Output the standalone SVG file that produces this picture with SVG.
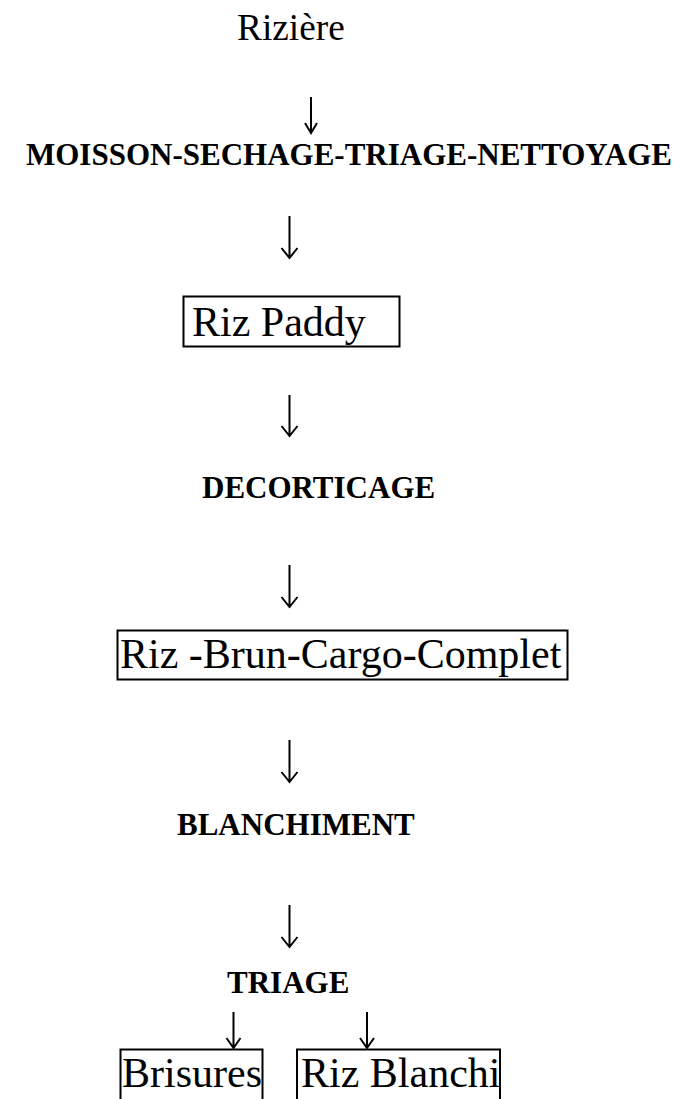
<svg xmlns="http://www.w3.org/2000/svg" width="690" height="1099" viewBox="0 0 690 1099">
<style>
  .reg { font-family: "Liberation Serif", "Times New Roman", serif; font-size: 42px; fill: #000; }
  .title { font-family: "Liberation Serif", "Times New Roman", serif; font-size: 37.3px; fill: #000; }
  .bold { font-family: "Liberation Serif", "Times New Roman", serif; font-size: 31px; font-weight: bold; fill: #000; }
  .box { fill: none; stroke: #000; stroke-width: 2; }
  .arr { fill: none; stroke: #000; stroke-width: 2; stroke-linejoin: miter; }
</style>
<rect width="690" height="1099" fill="#fff"/>

<g id="riziere"><text class="title" x="237" y="40">Rizière</text></g>
<g id="moisson"><text class="bold" x="26" y="165">MOISSON-SECHAGE-TRIAGE-NETTOYAGE</text></g>
<g id="riz-paddy">
  <rect class="box" x="183.5" y="296.5" width="216" height="50"/>
  <text class="reg" x="192" y="336">Riz Paddy</text>
</g>
<g id="decorticage"><text class="bold" x="202" y="498">DECORTICAGE</text></g>
<g id="riz-brun">
  <rect class="box" x="117.5" y="630.5" width="450" height="49"/>
  <text class="reg" x="120" y="668">Riz -Brun-Cargo-Complet</text>
</g>
<g id="blanchiment"><text class="bold" x="177" y="835">BLANCHIMENT</text></g>
<g id="triage"><text class="bold" x="227" y="993">TRIAGE</text></g>
<g id="brisures">
  <rect class="box" x="120.5" y="1049.5" width="142" height="70"/>
  <text class="reg" x="122" y="1087">Brisures</text>
</g>
<g id="riz-blanchi">
  <rect class="box" x="297" y="1049.5" width="203" height="70"/>
  <text class="reg" x="301" y="1087">Riz Blanchi</text>
</g>

<g id="connectors">
  <path class="arr" d="M311 97 V133 M305 123 L311 133 L317 123"/>
  <path class="arr" d="M289.5 216 V258 M281.5 248 L289.5 258 L297.5 248"/>
  <path class="arr" d="M289.5 395 V436 M281.5 426 L289.5 436 L297.5 426"/>
  <path class="arr" d="M289.5 565 V607 M281.5 597 L289.5 607 L297.5 597"/>
  <path class="arr" d="M289.5 740 V782 M281.5 772 L289.5 782 L297.5 772"/>
  <path class="arr" d="M289.5 905 V947 M281.5 937 L289.5 947 L297.5 937"/>
  <path class="arr" d="M233.5 1012 V1048 M226.5 1038 L233.5 1048 L240.5 1038"/>
  <path class="arr" d="M367 1012 V1048 M360 1038 L367 1048 L374 1038"/>
</g>
</svg>
